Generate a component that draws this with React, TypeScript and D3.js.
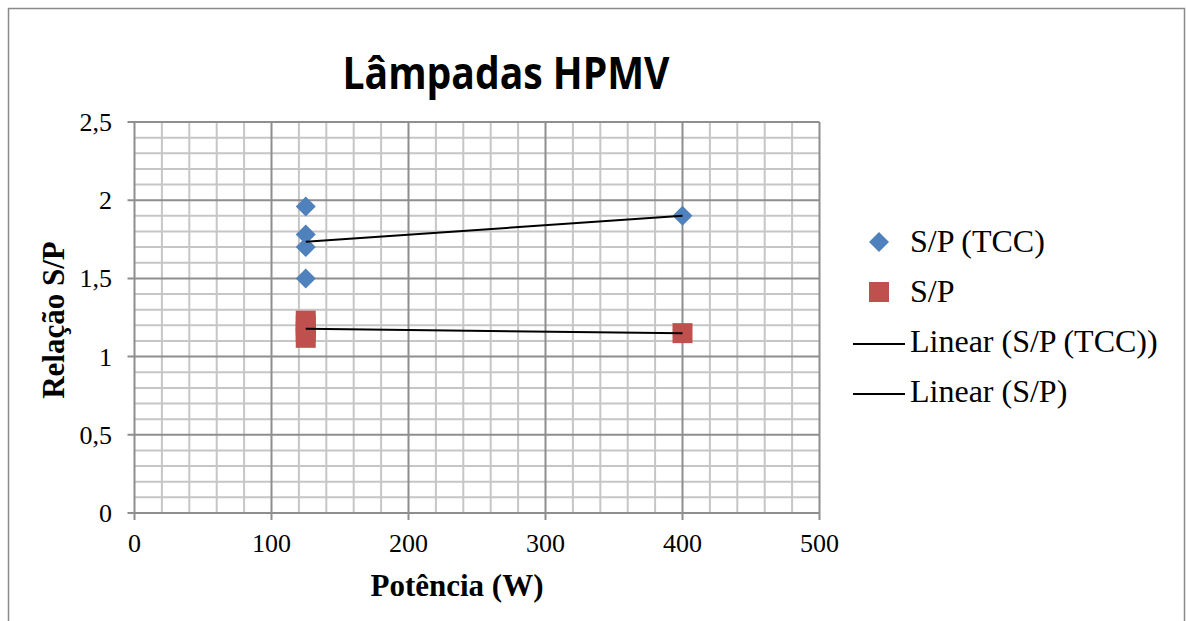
import React from "react";
import * as d3 from "d3";

const tccX = [125, 125, 125, 125, 400];
const tccY = [1.96, 1.78, 1.7, 1.5, 1.9];
const spX = [125, 125, 125, 125, 400];
const spY = [1.23, 1.2, 1.16, 1.12, 1.15];
const xTicks = [0, 100, 200, 300, 400, 500];
const yTicks = [0, 0.5, 1, 1.5, 2, 2.5];
const yTickLabels = ["0", "0,5", "1", "1,5", "2", "2,5"];
const legendLabels = ["S/P (TCC)", "S/P", "Linear (S/P (TCC))", "Linear (S/P)"];

function linreg(xs: number[], ys: number[]) {
  const mx = d3.mean(xs)!;
  const my = d3.mean(ys)!;
  let num = 0, den = 0;
  xs.forEach((x, i) => {
    num += (x - mx) * (ys[i] - my);
    den += (x - mx) * (x - mx);
  });
  const b = num / den;
  const a = my - b * mx;
  return (x: number) => a + b * x;
}

export default function App() {
  const W = 1186, H = 621;
  const left = 134.5, right = 819.5, top = 122, bottom = 513;
  const x = d3.scaleLinear().domain([0, 500]).range([left, right]);
  const y = d3.scaleLinear().domain([0, 2.5]).range([bottom, top]);
  const minorX = d3.range(0, 501, 20).filter((v) => v % 100 !== 0);
  const minorY = d3.range(0, 26).map((v) => v / 10).filter((v, i) => i % 5 !== 0);
  const blue = "#4F81BD";
  const red = "#C0504D";
  const minorC = "#C6C6C6";
  const majorC = "#8E8E8E";
  const serif = "'Liberation Serif', 'Times New Roman', serif";

  const f1 = linreg(tccX, tccY);
  const f2 = linreg(spX, spY);
  const x0 = d3.min(tccX)!, x1 = d3.max(tccX)!;
  const line = d3.line<[number, number]>().x((d) => x(d[0])).y((d) => y(d[1]));
  const diamond = (cx: number, cy: number, r: number) =>
    `M${cx},${cy - r}L${cx + r},${cy}L${cx},${cy + r}L${cx - r},${cy}Z`;

  return (
    <svg width={W} height={H} style={{ position: "absolute", left: 0, top: 0, background: "#fff" }}>
      <rect x={8.5} y={8.5} width={1176} height={H + 20} fill="#fff" stroke="#8a8a8a" strokeWidth={1.5} />
      <text x={506} y={89} textAnchor="middle" fontFamily="'Open Sans', sans-serif" fontWeight={700} fontSize={44} textLength={327} lengthAdjust="spacingAndGlyphs">
        Lâmpadas HPMV
      </text>
      {minorX.map((v) => (
        <line key={"mx" + v} x1={x(v)} x2={x(v)} y1={top} y2={bottom} stroke={minorC} strokeWidth={2} />
      ))}
      {minorY.map((v) => (
        <line key={"my" + v} x1={left} x2={right} y1={y(v)} y2={y(v)} stroke={minorC} strokeWidth={2} />
      ))}
      {xTicks.map((v) => (
        <line key={"Mx" + v} x1={x(v)} x2={x(v)} y1={top} y2={bottom + 7} stroke={majorC} strokeWidth={2} />
      ))}
      {yTicks.map((v) => (
        <line key={"My" + v} x1={left - 7} x2={right} y1={y(v)} y2={y(v)} stroke={majorC} strokeWidth={2} />
      ))}
      {xTicks.map((v) => (
        <text key={"xt" + v} x={x(v)} y={552} textAnchor="middle" fontFamily={serif} fontSize={26}>
          {v}
        </text>
      ))}
      {yTicks.map((v, i) => (
        <text key={"yt" + v} x={112} y={y(v) + 9} textAnchor="end" fontFamily={serif} fontSize={26}>
          {yTickLabels[i]}
        </text>
      ))}
      <text x={457} y={596} textAnchor="middle" fontFamily={serif} fontWeight={700} fontSize={31}>
        Potência (W)
      </text>
      <text transform={`translate(64,320) rotate(-90)`} textAnchor="middle" fontFamily={serif} fontWeight={700} fontSize={31}>
        Relação S/P
      </text>
      {tccX.map((v, i) => (
        <path key={"d" + i} d={diamond(x(v), y(tccY[i]), 10)} fill={blue} />
      ))}
      {spX.map((v, i) => (
        <rect key={"s" + i} x={x(v) - 10} y={y(spY[i]) - 10} width={20} height={20} fill={red} />
      ))}
      <path d={line([[x0, f1(x0)], [x1, f1(x1)]])!} stroke="#000" strokeWidth={2} fill="none" />
      <path d={line([[x0, f2(x0)], [x1, f2(x1)]])!} stroke="#000" strokeWidth={2} fill="none" />
      <path d={diamond(879, 242, 10)} fill={blue} />
      <rect x={869} y={282} width={20} height={20} fill={red} />
      <line x1={853} x2={905} y1={344} y2={344} stroke="#000" strokeWidth={2} />
      <line x1={853} x2={905} y1={394} y2={394} stroke="#000" strokeWidth={2} />
      {legendLabels.map((t, i) => (
        <text key={t} x={910} y={252 + i * 50} fontFamily={serif} fontSize={32}>
          {t}
        </text>
      ))}
    </svg>
  );
}
